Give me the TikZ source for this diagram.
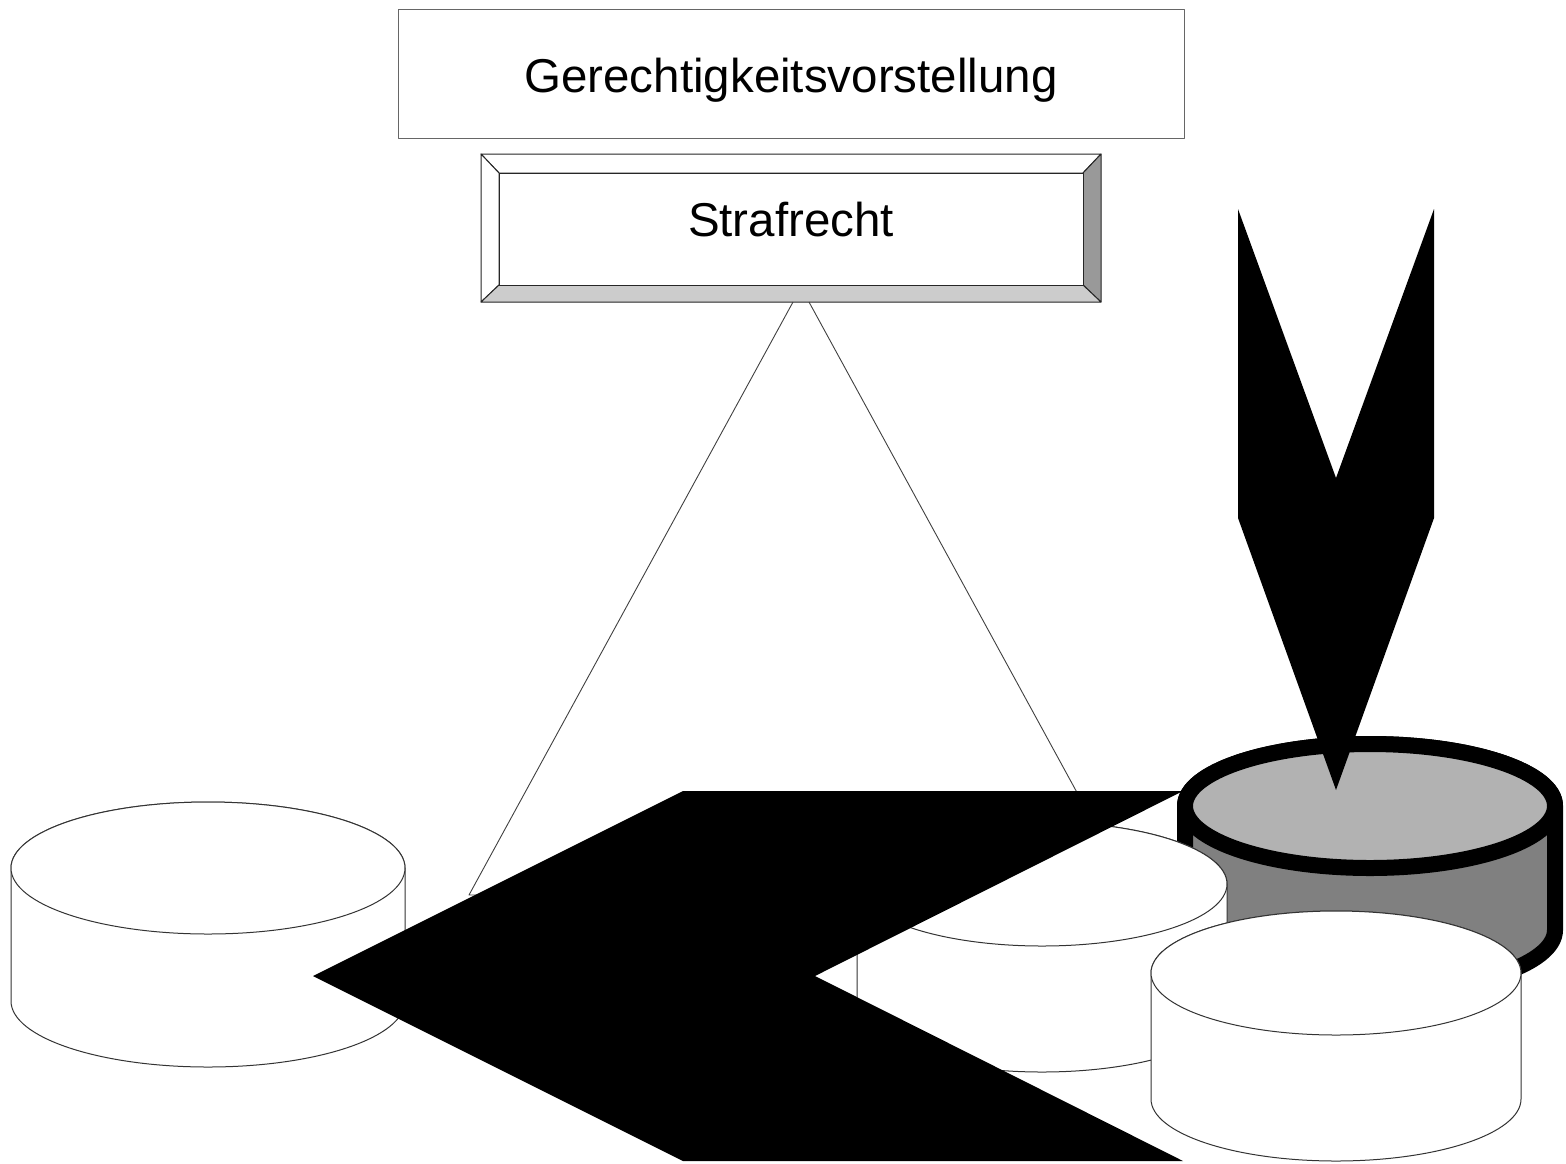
\documentclass[tikz,border=0pt]{standalone}
\usepackage{fontspec}
\setmainfont{Liberation Sans}
\newcommand\mycyl[9]{%
  % #1 name, #2 cx, #3 top cy, #4 bottom cy, #5 rx, #6 ry, #7 side fill, #8 top fill, #9 line style
  \filldraw[fill=#7, #9] (#2-#5,#3) -- (#2-#5,#4)
     arc[start angle=180, end angle=0, x radius=#5, y radius=#6]
     -- (#2+#5,#3)
     arc[start angle=0, end angle=-180, x radius=#5, y radius=#6] -- cycle;
  \filldraw[fill=#8, #9] (#2,#3) ellipse[x radius=#5, y radius=#6];
  \coordinate (#1) at (#2,#3);
}
\begin{document}
\begin{tikzpicture}[x=1pt,y=-1pt,line join=round,
  txt/.style={font=\fontsize{47.5}{57}\selectfont, inner sep=0pt, text depth=0pt},
  thinline/.style={draw=black!80, line width=1pt},
  fatline/.style={draw=black, line width=16pt},
  bevel/.style={draw=black!85, line width=1pt}]
\useasboundingbox (0,0) rectangle (1566,1163);

% top box
\node[txt, draw=black!60, line width=1pt, minimum width=786pt, minimum height=129pt,
      text height=37pt] (gerecht) at (791,73.5) {Gerechtigkeitsvorstellung};

% bevelled Strafrecht box
\coordinate (o1) at (481,154); \coordinate (o2) at (1101,154);
\coordinate (o3) at (1101,302); \coordinate (o4) at (481,302);
\coordinate (i1) at (499,173); \coordinate (i2) at (1083,173);
\coordinate (i3) at (1083,285); \coordinate (i4) at (499,285);
\filldraw[bevel, fill=white]   (o1) -- (o2) -- (i2) -- (i1) -- cycle;
\filldraw[bevel, fill=white]   (o1) -- (o4) -- (i4) -- (i1) -- cycle;
\filldraw[bevel, fill=black!40] (o2) -- (o3) -- (i3) -- (i2) -- cycle;
\filldraw[bevel, fill=black!20] (o4) -- (o3) -- (i3) -- (i4) -- cycle;
\node[txt, draw=black!85, line width=1pt, fill=white, minimum width=584pt, minimum height=112pt,
      text height=14pt] (straf) at (791,229) {Strafrecht};

% lines from Strafrecht down to the cylinders
\coordinate (sl) at (793,302);
\coordinate (sr) at (809,302);
\coordinate (bl) at (469,895);
\coordinate (br) at (1133,895);
\draw[draw=black!75, line width=0.9pt] (sl) -- (bl) -- (br) -- (sr);

% cylinders behind
\mycyl{cylL}{208}{868}{1001}{197}{66}{white}{white}{thinline}
\mycyl{cylG}{1370}{806}{930}{185}{62}{black!50}{black!30}{fatline}
\mycyl{cylM}{1042}{884}{1010}{185}{62}{white}{white}{thinline}

% black chevron pointing left
\fill[black] (683,791) -- (1183,791) -- (815,976) -- (1183,1161) -- (683,1161) -- (313,976) -- cycle;

% black arrow pointing down
\fill[black] (1238,209) -- (1336,478) -- (1434,209) -- (1434,518) -- (1336,790) -- (1238,518) -- cycle;

% front cylinder
\mycyl{cylF}{1336}{973}{1099}{185}{62}{white}{white}{thinline}
\end{tikzpicture}
\end{document}
